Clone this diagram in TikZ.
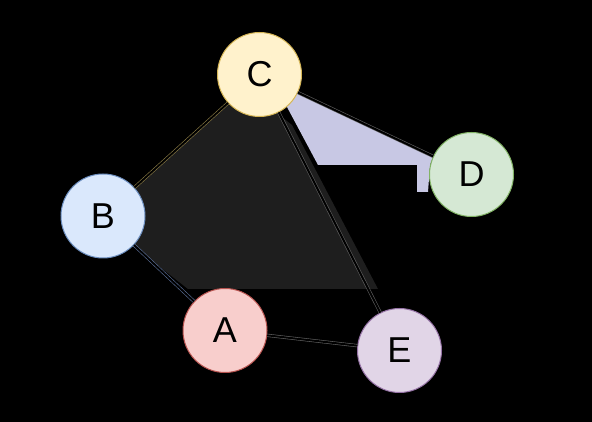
\documentclass[tikz,border=0pt]{standalone}
\usepackage{fontspec}
\setmainfont{Liberation Sans}

\begin{document}
\begin{tikzpicture}[x=1pt,y=1pt,
  vertex/.style={circle,line width=1pt,minimum size=84pt,inner sep=0pt,font=\fontsize{36}{40}\selectfont},
  link/.style={draw=#1,double=black,double distance=2pt,line width=0.6pt}]
\definecolor{bgColor}{RGB}{0,0,0}
\path[use as bounding box,fill=bgColor] (0,0) rectangle (592,422);
\definecolor{shadeColor}{RGB}{30,30,30}
\definecolor{lilacColor}{RGB}{200,200,228}

\path[fill=shadeColor] (135,234) -- (229,318) -- (260,322) -- (292,297) --
	(378,133) -- (188,133) -- (133,176) -- cycle;

\path[fill=lilacColor] (298,330) -- (433,265) -- (430,257) -- (428,230) --
	(417,230) -- (417,257) -- (318,257) -- (287,315) -- (270,332) -- cycle;

% nodes
\definecolor{fillC}{RGB}{255,242,204}
\definecolor{drawC}{RGB}{214,182,86}
\node[vertex,fill=fillC,draw=drawC] (C) at (259.5,347.5) {C};
\definecolor{fillD}{RGB}{213,232,212}
\definecolor{drawD}{RGB}{130,179,102}
\node[vertex,fill=fillD,draw=drawD] (D) at (471.5,247.5) {D};
\definecolor{fillB}{RGB}{218,232,252}
\definecolor{drawB}{RGB}{108,142,191}
\node[vertex,fill=fillB,draw=drawB] (B) at (103,206) {B};
\definecolor{fillA}{RGB}{248,206,204}
\definecolor{drawA}{RGB}{184,84,80}
\node[vertex,fill=fillA,draw=drawA] (A) at (225,91.5) {A};
\definecolor{fillE}{RGB}{225,213,231}
\definecolor{drawE}{RGB}{150,115,166}
\node[vertex,fill=fillE,draw=drawE] (E) at (399.5,71.5) {E};

% edges
\definecolor{haloBC}{RGB}{140,125,70}
\definecolor{haloBA}{RGB}{90,110,150}
\definecolor{haloGray}{RGB}{95,95,95}
\path[link=haloBC] (B) -- (C);
\path[link=haloBA] (B) -- (A);
\path[link=haloGray] (C) -- (D);
\path[link=haloGray] (C) -- (E);
\path[link=haloGray] (A) -- (E);
\end{tikzpicture}
\end{document}
